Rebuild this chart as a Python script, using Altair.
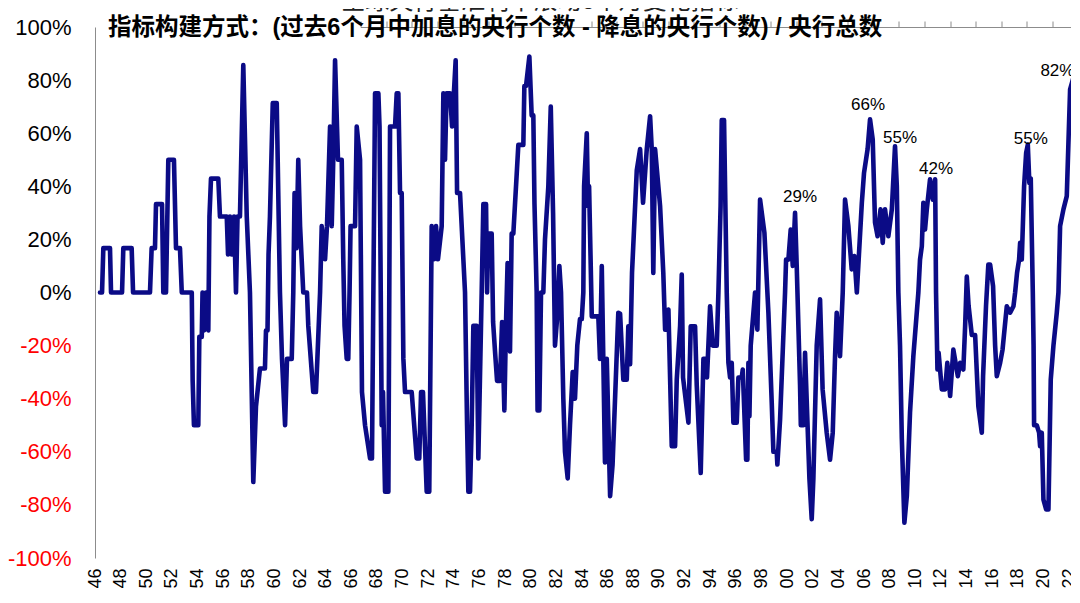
import altair as alt
import pandas as pd

# ---------------- data ----------------
YEARS = [
    1946.39, 1946.55, 1946.65, 1947.17, 1947.25, 1948.11, 1948.21, 1948.86, 1948.97, 1950.29,
    1950.42, 1950.68, 1950.76, 1951.23, 1951.33, 1951.54, 1951.72, 1952.16, 1952.32, 1952.63,
    1952.77, 1953.55, 1953.62, 1953.72, 1954.06, 1954.14, 1954.33, 1954.39, 1954.51, 1954.66,
    1954.84, 1954.93, 1955.05, 1955.62, 1955.75, 1956.28, 1956.38, 1956.53, 1956.69, 1956.85,
    1957.00, 1957.12, 1957.31, 1957.57, 1957.84, 1958.09, 1958.35, 1958.56, 1958.87, 1959.26,
    1959.34, 1959.46, 1959.54, 1959.65, 1959.87, 1960.18, 1960.43, 1960.59, 1960.83, 1960.98,
    1961.35, 1961.47, 1961.57, 1961.72, 1961.86, 1962.00, 1962.25, 1962.54, 1962.64, 1963.03,
    1963.24, 1963.35, 1963.56, 1963.69, 1963.95, 1964.10, 1964.34, 1964.47, 1964.59, 1964.73,
    1964.96, 1965.25, 1965.37, 1965.47, 1965.64, 1965.76, 1965.86, 1965.94, 1966.29, 1966.42,
    1966.68, 1966.83, 1967.07, 1967.46, 1967.61, 1967.85, 1968.11, 1968.20, 1968.37, 1968.47,
    1968.63, 1968.89, 1969.02, 1969.41, 1969.54, 1969.67, 1969.80, 1969.93, 1970.06, 1970.19,
    1970.71, 1971.10, 1971.30, 1971.44, 1971.59, 1971.88, 1972.08, 1972.27, 1972.45, 1972.61,
    1972.76, 1973.05, 1973.18, 1973.31, 1973.43, 1973.70, 1973.86, 1974.14, 1974.25, 1974.48,
    1974.87, 1975.03, 1975.13, 1975.26, 1975.39, 1975.52, 1975.78, 1975.91, 1976.17, 1976.30,
    1976.51, 1976.59, 1976.69, 1976.95, 1977.06, 1977.21, 1977.37, 1977.60, 1977.76, 1977.94,
    1978.07, 1978.19, 1978.25, 1978.38, 1978.51, 1978.64, 1978.90, 1979.03, 1979.42, 1979.50,
    1979.63, 1979.89, 1980.07, 1980.20, 1980.29, 1980.46, 1980.53, 1980.67, 1980.80, 1980.98,
    1981.11, 1981.37, 1981.56, 1981.74, 1981.89, 1982.05, 1982.23, 1982.36, 1982.54, 1982.67,
    1982.88, 1983.06, 1983.27, 1983.38, 1983.45, 1983.63, 1983.84, 1983.98, 1984.10, 1984.16,
    1984.37, 1984.47, 1984.55, 1984.76, 1985.27, 1985.40, 1985.54, 1985.66, 1985.79, 1985.93,
    1986.19, 1986.38, 1986.83, 1986.97, 1987.22, 1987.49, 1987.61, 1987.75, 1987.90, 1988.27,
    1988.53, 1988.76, 1989.05, 1989.31, 1989.44, 1989.56, 1989.70, 1990.09, 1990.34, 1990.48,
    1990.74, 1991.00, 1991.26, 1991.39, 1991.65, 1991.78, 1991.88, 1992.30, 1992.48, 1992.82,
    1992.95, 1993.26, 1993.47, 1993.68, 1993.75, 1993.99, 1994.20, 1994.51, 1994.64, 1994.81,
    1994.90, 1995.08, 1995.29, 1995.42, 1995.55, 1995.68, 1995.81, 1996.07, 1996.20, 1996.46,
    1996.54, 1996.80, 1996.90, 1996.98, 1997.06, 1997.16, 1997.50, 1997.68, 1997.77, 1997.89,
    1998.23, 1998.54, 1998.80, 1998.93, 1999.19, 1999.24, 1999.45, 1999.84, 1999.92, 2000.10,
    2000.28, 2000.44, 2000.62, 2000.75, 2001.01, 2001.07, 2001.27, 2001.40, 2001.74, 2001.92,
    2002.05, 2002.31, 2002.57, 2002.77, 2003.09, 2003.35, 2003.56, 2003.74, 2003.87, 2004.13,
    2004.34, 2004.52, 2004.78, 2005.04, 2005.25, 2005.44, 2005.83, 2006.00, 2006.28, 2006.47,
    2006.68, 2006.86, 2007.06, 2007.29, 2007.46, 2007.64, 2007.90, 2008.17, 2008.42, 2008.56,
    2008.68, 2008.81, 2008.95, 2009.15, 2009.34, 2009.59, 2009.85, 2010.24, 2010.37, 2010.51,
    2010.63, 2010.76, 2010.90, 2011.15, 2011.37, 2011.55, 2011.62, 2011.73, 2011.82, 2012.07,
    2012.33, 2012.50, 2012.72, 2012.97, 2013.32, 2013.50, 2013.75, 2013.89, 2014.02, 2014.16,
    2014.41, 2014.67, 2014.92, 2015.19, 2015.29, 2015.52, 2015.70, 2015.84, 2016.07, 2016.23,
    2016.36, 2016.62, 2016.81, 2017.14, 2017.40, 2017.66, 2017.79, 2017.94, 2018.10, 2018.18,
    2018.31, 2018.49, 2018.65, 2018.78, 2018.90, 2019.01, 2019.17, 2019.23, 2019.27, 2019.48,
    2019.66, 2019.74, 2019.87, 2020.00, 2020.21, 2020.39, 2020.57, 2020.78, 2021.04, 2021.17,
    2021.30, 2021.56, 2021.82, 2022.08, 2022.34, 2022.86,
]

VALUES = [
    0, 0, 16.7, 16.7, 0, 0, 16.7, 16.7, 0, 0,
    16.7, 16.7, 33.3, 33.3, 0, 0, 50, 50, 16.7, 16.7,
    0, 0, -33.3, -50, -50, -16.7, -16.7, 0, -14.3, 0,
    -14.3, 28.6, 42.9, 42.9, 28.6, 28.6, 14.3, 28.6, 14.3, 28.6,
    0, 28.6, 28.6, 85.7, 28.6, 0, -71.4, -42.9, -28.6, -28.6,
    -14.3, -14.3, 14.3, 28.6, 71.4, 71.4, 0, -25, -50, -25,
    -25, 0, 37.5, 16.7, 50, 25, 0, 0, -12.5, -37.5,
    -37.5, -25, 0, 25, 12.5, 25, 62.5, 25, 50, 87.5,
    50, 50, 12.5, -12.5, -25, -25, 0, 25, 25, 62.5,
    50, -37.5, -50, -62.5, -62.5, 75, 75, 62.5, -50, -37.5,
    -75, -75, 62.5, 62.5, 75, 75, 37.5, 37.5, -25, -37.5,
    -37.5, -62.5, -62.5, -37.5, -37.5, -75, -75, 25, 12.5, 25,
    12.5, 25, 75, 50, 75, 75, 62.5, 87.5, 37.5, 37.5,
    0, -50, -75, -75, -50, -12.5, -12.5, -62.5, 0, 33.3,
    33.3, 0, 22.2, 22.2, -11.1, -22.2, -33.3, -33.3, -11.1, -44.4,
    -11.1, 11.1, 0, -22.2, 22.2, 22.2, 44.4, 55.6, 55.6, 77.8,
    77.8, 88.9, 66.7, 66.7, 33.3, 0, -44.4, -44.4, 0, 0,
    20, 40, 70, 30, -20, -10, 10, 0, -40, -60,
    -70, -50, -30, -30, -40, -20, -10, -10, 0, 40,
    60, 32.5, 40, -9, -9, -25, 10, -25, -64, -25,
    -76.7, -65, -7.6, -8, -32.8, -32.8, -12.7, -27, 7.5, 46,
    54, 33.8, 54, 66.4, 54, 7.4, 54, 32.5, 7.4, -14,
    -6.4, -57.9, -57.9, -32.8, -12.7, 6.8, -32, -49, -12.7, -12.7,
    -35, -68, -25, -25, -32, -5.2, -20, -20, 0, 32.5,
    65, 65, 0, -26.5, -32, -26.5, -49, -49, -32, -32,
    -29, -63, -63, -26.5, -46.6, -20, 0, -14, 7.4, 35,
    22.5, -7.6, -41.5, -60, -60, -64.8, -48, 0, 12.4, 12.4,
    23.7, 10, 30, 10, -35, -50, -50, -22.7, -70, -85.4,
    -70, -20, -2.6, -36.5, -52.8, -63, -52.8, -24, -7.6, -24,
    0, 35, 25, 8.7, 13.7, 0, 33.8, 45, 54, 65.2,
    57.6, 26.3, 21.2, 31.3, 18.7, 31.3, 21.2, 31.3, 55.1, 40,
    0, -20, -55, -86.7, -76.7, -45.3, -24, 0, 12.4, 17.4,
    33.8, 23.7, 31.3, 42.6, 35, 42.6, 0, -29, -22.7, -36.5,
    -36.5, -26.5, -39, -21.5, -31.5, -26.5, -29, -12.7, 6, -5,
    -16, -16, -42.8, -52.8, -31.5, -5, 10.5, 10.5, 2.4, -20,
    -31.5, -26.5, -21.5, -5.2, -7.6, -5.2, 0, 7.4, 12.4, 18.7,
    12.4, 40, 52.6, 55.7, 41.3, 43, 0, -20, -50, -50,
    -52.8, -57.9, -52.8, -78, -81.7, -81.7, -32.8, -20, -7.6, 0,
    25, 31.3, 36.3, 76.5, 80.9, 80.9,
]

TICK_YEARS = list(range(1946, 2023, 2))
Y_TICKS = list(range(-100, 101, 20))

ANN_YEARS = [2000.62, 2006.47, 2008.42, 2011.15, 2018.78, 2022.34]
ANN_VALUES = [30, 65.2, 55.1, 42.6, 55.7, 80.9]
ANN_LABELS = ["29%", "66%", "55%", "42%", "55%", "82%"]

TITLE = "全球央行基准利率滚动6个月变化指标"
SUBTITLE = "指标构建方式：(过去6个月中加息的央行个数 - 降息的央行个数) / 央行总数"

# ---------------- styling ----------------
NAVY = "#0b0b86"
RED = "#ff0000"
GRAY = "#8c8c8c"
FONT = "Liberation Sans, Noto Sans CJK SC"
PLOT_W = 976
PLOT_H = 531
ANN_OFFSETS = [(5, -16), (-2, -14), (5, -8), (6, -10), (3, -6), (-16, -7)]

x_scale = alt.Scale(domain=[1946, 2022.15], nice=False, zero=False)
y_scale = alt.Scale(domain=[-100, 100], nice=False, zero=False)

series = pd.DataFrame({"year": YEARS, "value": VALUES})

line = alt.Chart(series).mark_line(
    color=NAVY, strokeWidth=4.6, strokeJoin="round", strokeCap="round"
).encode(
    x=alt.X(
        "year:Q", scale=x_scale,
        axis=alt.Axis(
            orient="bottom", values=TICK_YEARS, format="d", labelAngle=270,
            labelFontSize=18, labelFont=FONT, labelColor="black", labelPadding=10,
            labelFlush=False, labelOverlap=False, ticks=False, domain=False,
            grid=False, title=None,
        ),
    ),
    y=alt.Y(
        "value:Q", scale=y_scale,
        axis=alt.Axis(
            orient="left", values=Y_TICKS, labelExpr="datum.value + '%'",
            labelFontSize=22, labelFont=FONT,
            labelColor={"condition": {"test": "datum.value < 0", "value": RED}, "value": "black"},
            labelPadding=24, labelOverlap=False, labelFlush=False, ticks=False,
            domain=True, domainColor=GRAY, domainWidth=1, grid=False, title=None,
        ),
    ),
)

ann_df = pd.DataFrame({"year": ANN_YEARS, "value": ANN_VALUES, "label": ANN_LABELS})
layers = [line]
for i, (dx, dy) in enumerate(ANN_OFFSETS):
    if i == 0:
        xax = alt.Axis(
            orient="top", position=PLOT_H / 2, values=TICK_YEARS, labels=False,
            ticks=True, tickSize=6, tickColor=GRAY, tickWidth=1, domain=True,
            domainColor=GRAY, domainWidth=1, grid=False, title=None,
        )
        yax = alt.Axis(
            orient="right", position=0, values=Y_TICKS, labels=False, ticks=True,
            tickSize=6, tickColor=GRAY, tickWidth=1, domain=False, grid=False, title=None,
        )
    else:
        xax = None
        yax = None
    layers.append(
        alt.Chart(ann_df.iloc[[i]]).mark_text(
            fontSize=17, font=FONT, color="black", dx=dx, dy=dy,
            align="center", baseline="middle",
        ).encode(
            x=alt.X("year:Q", scale=x_scale, axis=xax),
            y=alt.Y("value:Q", scale=y_scale, axis=yax),
            text="label:N",
        )
    )

subtitle = alt.Chart(pd.DataFrame({"t": [SUBTITLE]})).mark_text(
    align="left", baseline="middle", fontSize=23.5, fontWeight="bold", font=FONT, color="black"
).encode(x=alt.value(13), y=alt.value(1), text="t:N")

title = alt.Chart(pd.DataFrame({"t": [TITLE]})).mark_text(
    align="center", baseline="bottom", fontSize=24, font=FONT, color="#222222"
).encode(x=alt.value(445), y=alt.value(-13), text="t:N")

layers += [subtitle, title]

chart = alt.layer(*layers).resolve_axis(
    x="independent", y="independent"
).properties(
    width=PLOT_W, height=PLOT_H,
    padding={"left": 87, "top": 19, "right": 0, "bottom": 31},
    autosize=alt.AutoSizeParams(type="none"),
    background="white",
).configure_view(stroke=None)

chart.save("out.html", embed_options={"renderer": "svg", "actions": False})
